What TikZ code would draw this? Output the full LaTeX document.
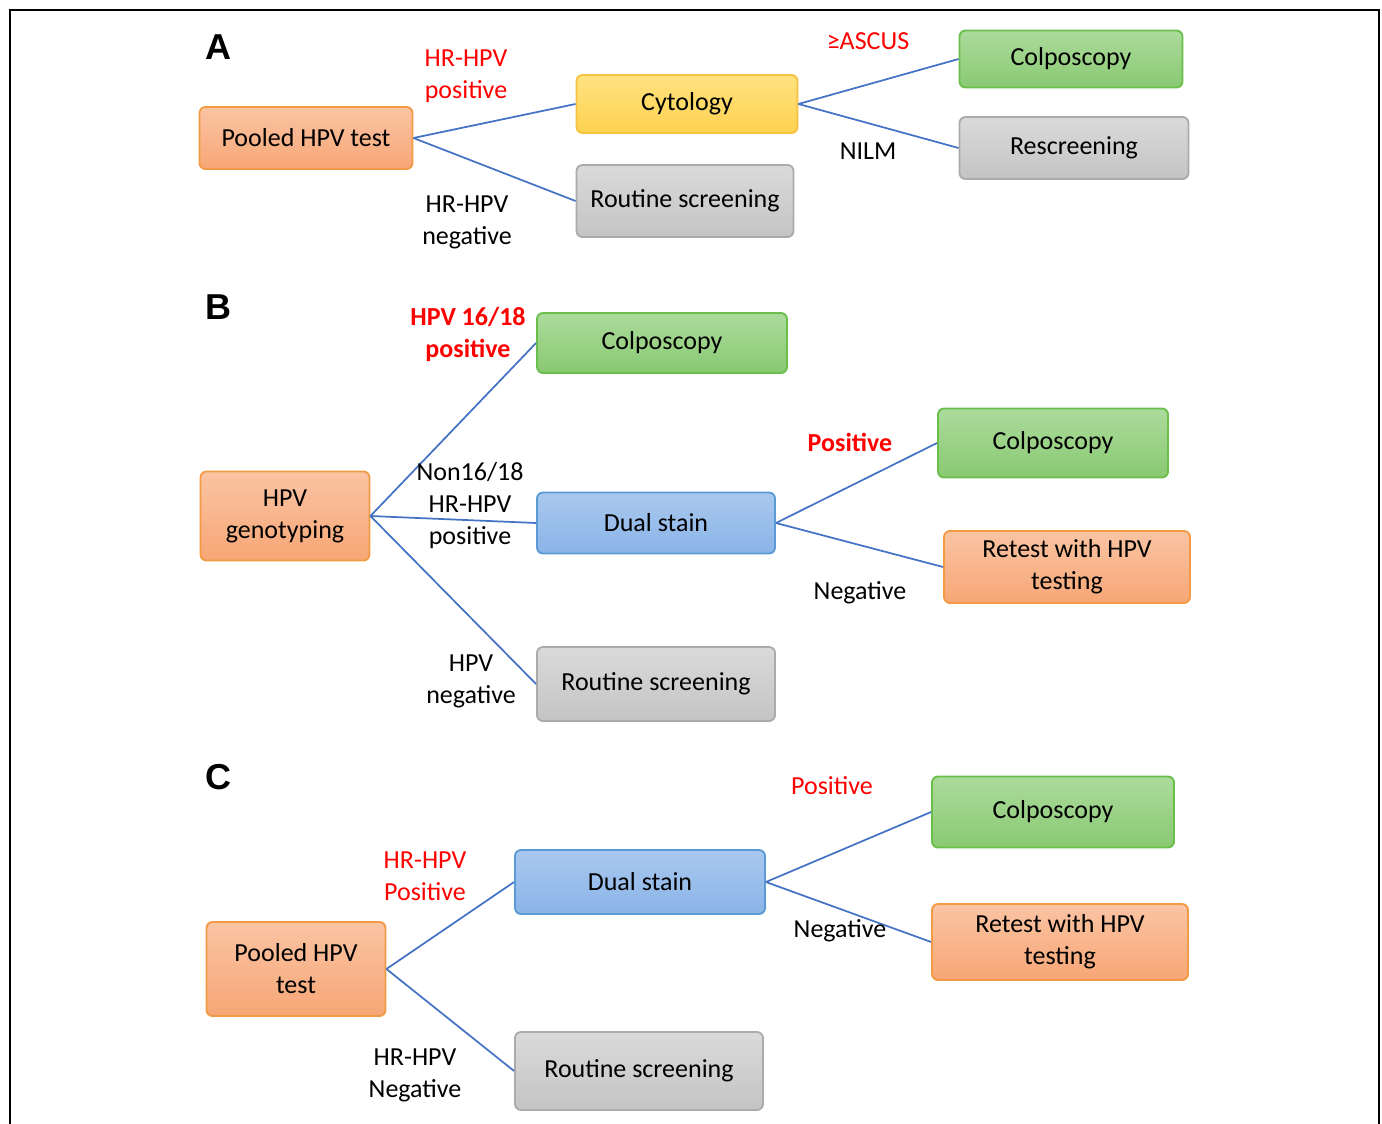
\documentclass[tikz,border=0pt]{standalone}
\usepackage{fontspec}
\setmainfont{Carlito}
\newfontfamily\panelfont{Liberation Sans}
\usepackage{xcolor}
\usetikzlibrary{positioning}

\definecolor{linkblue}{HTML}{4472C4}
\definecolor{hpvred}{HTML}{FF0000}
\definecolor{orangeline}{HTML}{F39A45}
\definecolor{orangetop}{HTML}{FAC4A3}
\definecolor{orangebot}{HTML}{F7A676}
\definecolor{yellowline}{HTML}{F5C242}
\definecolor{yellowtop}{HTML}{FFE280}
\definecolor{yellowbot}{HTML}{FFD250}
\definecolor{greenline}{HTML}{6ABF4B}
\definecolor{greentop}{HTML}{ACDB9C}
\definecolor{greenbot}{HTML}{89C972}
\definecolor{grayline}{HTML}{ABABAB}
\definecolor{graytop}{HTML}{DADADA}
\definecolor{graybot}{HTML}{C4C4C4}
\definecolor{blueline}{HTML}{5B9BD5}
\definecolor{bluetop}{HTML}{A9C8EE}
\definecolor{bluebot}{HTML}{8AB4E8}

\begin{document}
\begin{tikzpicture}[
    x=0.75pt, y=-0.75pt,
    every node/.style={font=\fontsize{19.5}{24}\selectfont},
    box/.style={rectangle, rounded corners=4.5pt, line width=1.4pt, inner sep=2pt, align=center},
    orangebox/.style={box, draw=orangeline, top color=orangetop, bottom color=orangebot},
    yellowbox/.style={box, draw=yellowline, top color=yellowtop, bottom color=yellowbot},
    greenbox/.style={box, draw=greenline, top color=greentop, bottom color=greenbot},
    graybox/.style={box, draw=grayline, top color=graytop, bottom color=graybot},
    bluebox/.style={box, draw=blueline, top color=bluetop, bottom color=bluebot},
    panel/.style={font=\panelfont\bfseries\fontsize{27}{30}\selectfont},
    lbl/.style={align=center},
    redlbl/.style={lbl, text=hpvred},
    link/.style={draw=linkblue, line width=1.3pt}
]
\useasboundingbox (0,0) rectangle (1382,1124);

% Frame
\draw[line width=1.5pt] (10,1124) -- (10,10) -- (1379,10) -- (1379,1124);

% Panel A
\node[panel] (labA) at (218,47) {A};
\node[orangebox, minimum width=159.75pt, minimum height=46.5pt] (poolA) at (306,138) {Pooled HPV test};
\node[yellowbox, minimum width=165.75pt, minimum height=43.5pt] (cytoA) at (687,104) {Cytology};
\node[graybox, minimum width=162.75pt, minimum height=54pt] (routA) at (685,201) {Routine screening};
\node[greenbox, minimum width=167.25pt, minimum height=42.75pt] (colpA) at (1071,59) {Colposcopy};
\node[graybox, minimum width=171.75pt, minimum height=46.5pt] (rescA) at (1074,148) {Rescreening};

\draw[link] (poolA.east) -- (cytoA.west);
\draw[link] (poolA.east) -- (routA.west);
\draw[link] (cytoA.east) -- (colpA.west);
\draw[link] (cytoA.east) -- (rescA.west);

\node[redlbl] (posA) at (466,76) {HR-HPV\\positive};
\node[lbl] (negA) at (467,222) {HR-HPV\\negative};
\node[redlbl] (ascA) at (868,41) {≥ASCUS};
\node[lbl] (nilmA) at (868,151) {NILM};

% Panel B
\node[panel] (labB) at (218,307) {B};
\node[orangebox, minimum width=126.75pt, minimum height=66.75pt] (genoB) at (285,516) {HPV\\genotyping};
\node[greenbox, minimum width=187.5pt, minimum height=45pt] (colpB) at (662,343) {Colposcopy};
\node[bluebox, minimum width=178.5pt, minimum height=45.75pt] (dualB) at (656,523) {Dual stain};
\node[graybox, minimum width=178.5pt, minimum height=55.5pt] (routB) at (656,684) {Routine screening};
\node[greenbox, minimum width=172.5pt, minimum height=51.75pt] (colpBb) at (1053,443) {Colposcopy};
\node[orangebox, minimum width=184.5pt, minimum height=54pt] (retB) at (1067,567) {Retest with HPV\\testing};

\draw[link] (genoB.east) -- (colpB.west);
\draw[link] (genoB.east) -- (dualB.west);
\draw[link] (genoB.east) -- (routB.west);
\draw[link] (dualB.east) -- (colpBb.west);
\draw[link] (dualB.east) -- (retB.west);

\node[redlbl, font=\bfseries\fontsize{19.5}{24}\selectfont] (hpv1618B) at (468,334) {HPV 16/18\\positive};
\node[lbl] (nonB) at (470,506) {Non16/18\\HR-HPV\\positive};
\node[lbl] (negB) at (471,681) {HPV\\negative};
\node[redlbl, font=\bfseries\fontsize{19.5}{24}\selectfont] (posB) at (850,442) {Positive};
\node[lbl] (dnegB) at (860,593) {Negative};

% Panel C
\node[panel] (labC) at (218,777) {C};
\node[orangebox, minimum width=134.25pt, minimum height=70.5pt] (poolC) at (296,969) {Pooled HPV\\test};
\node[bluebox, minimum width=187.5pt, minimum height=48pt] (dualC) at (640,882) {Dual stain};
\node[graybox, minimum width=186pt, minimum height=58.5pt] (routC) at (639,1071) {Routine screening};
\node[greenbox, minimum width=181.5pt, minimum height=53.25pt] (colpC) at (1053,812) {Colposcopy};
\node[orangebox, minimum width=192pt, minimum height=57pt] (retC) at (1060,942) {Retest with HPV\\testing};

\draw[link] (poolC.east) -- (dualC.west);
\draw[link] (poolC.east) -- (routC.west);
\draw[link] (dualC.east) -- (colpC.west);
\draw[link] (dualC.east) -- (retC.west);

\node[redlbl] (posC) at (425,876) {HR-HPV\\Positive};
\node[lbl] (negC) at (415,1075) {HR-HPV\\Negative};
\node[redlbl] (dposC) at (832,786) {Positive};
\node[lbl] (dnegC) at (840,931) {Negative};

\end{tikzpicture}
\end{document}
